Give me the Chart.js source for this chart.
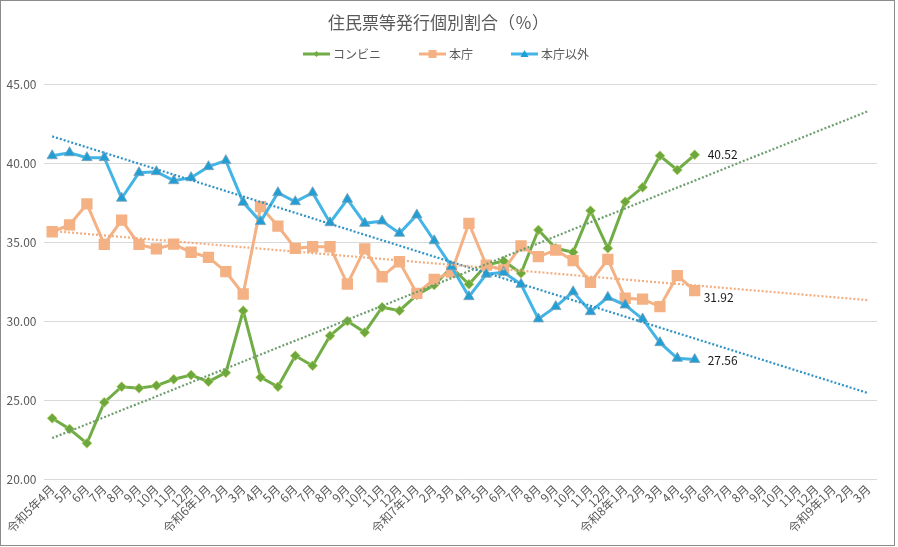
<!DOCTYPE html>
<html>
<head>
<meta charset="utf-8">
<script src="https://cdn.jsdelivr.net/npm/chart.js@4/dist/chart.umd.min.js"></script>
<style>
html,body{margin:0;padding:0;background:#fff;}
#wrap{width:898px;height:547px;}
</style>
</head>
<body>
<div id="wrap"><canvas id="c" width="898" height="547"></canvas></div>
<script>
// ---- data ----
const categories = [
  '令和5年4月','5月','6月','7月','8月','9月','10月','11月','12月',
  '令和6年1月','2月','3月','4月','5月','6月','7月','8月','9月','10月','11月','12月',
  '令和7年1月','2月','3月','4月','5月','6月','7月','8月','9月','10月','11月','12月',
  '令和8年1月','2月','3月','4月','5月','6月','7月','8月','9月','10月','11月','12月',
  '令和9年1月','2月','3月'
];
const seriesNames = ['コンビニ', '本庁', '本庁以外'];
const conveni = [23.84,23.16,22.26,24.85,25.84,25.74,25.91,26.31,26.58,26.16,
                 26.73,30.65,26.44,25.84,27.80,27.17,29.07,30.00,29.28,30.87,
                 30.65,31.65,32.28,33.40,32.32,33.54,33.80,33.02,35.76,34.60,
                 34.35,36.98,34.60,37.55,38.46,40.46,39.56,40.52];
const honcho  = [35.65,36.08,37.41,34.85,36.39,34.85,34.56,34.87,34.35,34.03,
                 33.12,31.71,37.24,36.01,34.60,34.70,34.70,32.34,34.56,32.80,
                 33.75,31.75,32.64,33.10,36.18,33.54,33.23,34.75,34.07,34.49,
                 33.82,32.45,33.90,31.44,31.38,30.91,32.87,31.92];
const others  = [40.46,40.65,40.34,40.34,37.77,39.39,39.45,38.88,39.07,39.77,
                 40.15,37.51,36.29,38.12,37.55,38.12,36.22,37.70,36.18,36.33,
                 35.55,36.71,35.08,33.44,31.54,32.96,33.08,32.32,30.13,30.91,
                 31.85,30.59,31.50,31.01,30.13,28.63,27.64,27.56];
const yMin = 20, yMax = 45, yStep = 5;

// ---- styling ----
const FONT = "'Noto Sans CJK JP', 'Noto Sans', sans-serif";
const GREEN = '#70AD47', ORANGE = '#F4B183', BLUE = '#42B4E6';
const GREEN_T = '#6E9E6E', ORANGE_T = '#F2AE80', BLUE_T = '#2E93C6';

// linear least-squares trendline computed from the series (like Excel's linear trendline)
function linearTrend(values, n) {
  const m = values.length;
  let sx = 0, sy = 0, sxx = 0, sxy = 0;
  values.forEach((v, i) => { sx += i; sy += v; sxx += i * i; sxy += i * v; });
  const slope = (m * sxy - sx * sy) / (m * sxx - sx * sx);
  const icpt = (sy - slope * sx) / m;
  return Array.from({length: n}, (_, i) => icpt + slope * i);
}

const N = categories.length;

const bgPlugin = {
  id: 'bg',
  beforeDraw(chart) {
    const c = chart.ctx;
    c.save(); c.fillStyle = '#fff'; c.fillRect(0, 0, chart.width, chart.height); c.restore();
  },
  afterDraw(chart) {
    const c = chart.ctx;
    c.save(); c.strokeStyle = '#8c8c8c'; c.lineWidth = 1;
    c.strokeRect(0.5, 0.5, 894, 545); c.restore();
  }
};

function drawMarker(c, style, x, y, r, color) {
  c.fillStyle = color;
  c.beginPath();
  if (style === 'rectRot') {
    c.moveTo(x, y - r); c.lineTo(x + r, y); c.lineTo(x, y + r); c.lineTo(x - r, y);
  } else if (style === 'rect') {
    c.rect(x - r, y - r, 2 * r, 2 * r);
  } else {
    c.moveTo(x, y - r); c.lineTo(x + r, y + r * 0.75); c.lineTo(x - r, y + r * 0.75);
  }
  c.closePath(); c.fill();
}

const legendPlugin = {
  id: 'xlLegend',
  afterDraw(chart) {
    const c = chart.ctx;
    const items = [
      {text: seriesNames[0], color: GREEN, style: 'rectRot', r: 3},
      {text: seriesNames[1], color: ORANGE, style: 'rect', r: 4},
      {text: seriesNames[2], color: '#1F9FD6', line: BLUE, style: 'triangle', r: 4}
    ];
    c.save();
    c.font = '12px ' + FONT;
    const lineLen = 27, gap = 3, spacing = 38, y = 54;
    let total = 0;
    items.forEach(it => { it.w = lineLen + gap + c.measureText(it.text).width; total += it.w; });
    total += spacing * (items.length - 1);
    let x = chart.width / 2 - 3 - total / 2;
    items.forEach(it => {
      c.strokeStyle = it.line || it.color; c.lineWidth = 3;
      c.beginPath(); c.moveTo(x, y); c.lineTo(x + lineLen, y); c.stroke();
      drawMarker(c, it.style, x + lineLen / 2, y, it.r, it.color);
      c.fillStyle = '#595959'; c.textBaseline = 'middle'; c.textAlign = 'left';
      c.fillText(it.text, x + lineLen + gap, y);
      x += it.w + spacing;
    });
    c.restore();
  }
};

const lastLabelPlugin = {
  id: 'lastLabel',
  afterDatasetsDraw(chart) {
    const c = chart.ctx;
    const offs = [{dx: 13, dy: 0}, {dx: 9, dy: 7}, {dx: 13, dy: 1}];
    c.save();
    c.font = '12px ' + FONT;
    c.fillStyle = '#1a1a1a'; c.textBaseline = 'middle'; c.textAlign = 'left';
    [0, 1, 2].forEach(di => {
      const ds = chart.data.datasets[di];
      const meta = chart.getDatasetMeta(di);
      const li = ds.data.length - 1;
      const el = meta.data[li];
      c.fillText(ds.data[li].toFixed(2), el.x + offs[di].dx, el.y + offs[di].dy);
    });
    c.restore();
  }
};

new Chart(document.getElementById('c'), {
  type: 'line',
  data: {
    labels: categories,
    datasets: [
      {label: seriesNames[0], data: conveni, borderColor: GREEN, backgroundColor: '#6CA83E',
       pointBorderColor: '#c8d96a', pointBorderWidth: 0.6,
       borderWidth: 3, pointStyle: 'rectRot', pointRadius: 5, tension: 0, order: 3},
      {label: seriesNames[1], data: honcho, borderColor: ORANGE, backgroundColor: ORANGE,
       borderWidth: 3, pointStyle: 'rect', pointRadius: 8, pointBorderWidth: 0, tension: 0, order: 2},
      {label: seriesNames[2], data: others, borderColor: BLUE, backgroundColor: '#1F9FD6',
       pointBorderColor: '#7f9fb3', pointBorderWidth: 0.8,
       borderWidth: 3, pointStyle: 'triangle', pointRadius: 6, tension: 0, order: 1},
      {label: 'trend1', data: linearTrend(conveni, N), borderColor: GREEN_T, borderWidth: 2.2,
       borderDash: [2, 2], pointRadius: 0, tension: 0, order: 0},
      {label: 'trend2', data: linearTrend(honcho, N), borderColor: ORANGE_T, borderWidth: 2.2,
       borderDash: [2, 2], pointRadius: 0, tension: 0, order: 0},
      {label: 'trend3', data: linearTrend(others, N), borderColor: BLUE_T, borderWidth: 2.2,
       borderDash: [2, 2], pointRadius: 0, tension: 0, order: 0}
    ]
  },
  options: {
    responsive: false,
    animation: false,
    devicePixelRatio: 1,
    layout: {padding: {left: 0, right: 21, top: 0, bottom: 0}},
    plugins: {
      legend: {display: false},
      tooltip: {enabled: false},
      title: {
        display: true,
        text: '住民票等発行個別割合（％）',
        color: '#595959',
        font: {family: FONT, size: 17, weight: 'normal'},
        padding: {top: 12, bottom: 51.6}
      }
    },
    scales: {
      x: {
        type: 'category',
        offset: true,
        grid: {display: false, drawTicks: false},
        border: {display: false},
        ticks: {
          autoSkip: false, maxRotation: 45, minRotation: 45,
          color: '#595959', font: {family: FONT, size: 12}, padding: 3
        },
        afterFit(scale) { scale.height = 68; }
      },
      y: {
        min: yMin, max: yMax,
        grid: {color: '#d9d9d9', lineWidth: 1, drawTicks: false},
        border: {display: false},
        ticks: {
          stepSize: yStep, color: '#595959', font: {family: FONT, size: 12}, padding: 7,
          callback: v => Number(v).toFixed(2)
        },
        afterFit(scale) { scale.width = 43.5; }
      }
    }
  },
  plugins: [bgPlugin, legendPlugin, lastLabelPlugin]
});
</script>
</body>
</html>
